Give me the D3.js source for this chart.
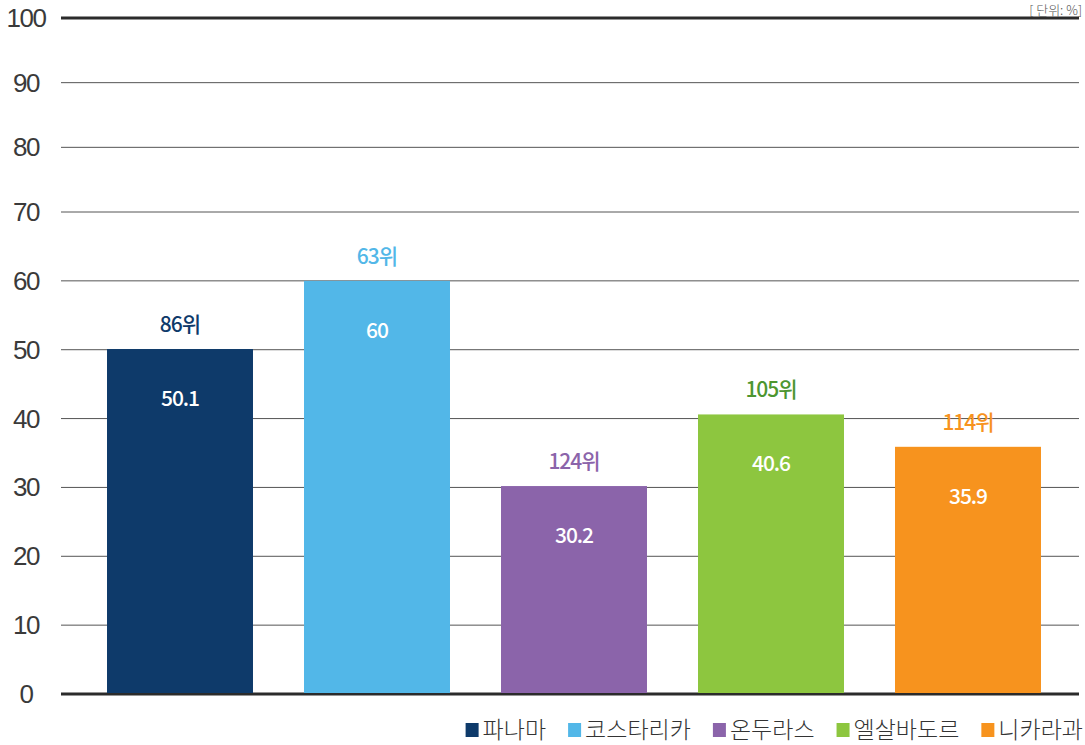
<!DOCTYPE html>
<html>
<head>
<meta charset="utf-8">
<script src="https://cdn.jsdelivr.net/npm/d3@7"></script>
<style>
  html, body { margin: 0; padding: 0; background: #fff; }
  svg { display: block; }
  text { font-family: "Liberation Sans", "Noto Sans CJK KR", sans-serif; }
</style>
</head>
<body>
<svg id="chart" width="1085" height="745"></svg>
<script>
// Countries, share values (%) and world ranking per country
const countries = ["파나마", "코스타리카", "온두라스", "엘살바도르", "니카라과"];
const values = [50.1, 60, 30.2, 40.6, 35.9];
const ranks = ["86위", "63위", "124위", "105위", "114위"];
const colors = ["#0e3a6a", "#52b7e8", "#8b64aa", "#8dc63f", "#f7931e"];
const rankColors = ["#0e3a6a", "#52b7e8", "#8b64aa", "#4d9631", "#f7931e"];
const yTicks = [0, 10, 20, 30, 40, 50, 60, 70, 80, 90, 100];
const unitLabel = "[ 단위: %]";

const svg = d3.select("#chart");
const left = 61, right = 1079;
const labelFont = "'Noto Sans CJK KR', sans-serif";

const y = d3.scaleLinear().domain([0, 70, 100]).range([694, 212, 18]);
const x = d3.scaleBand()
  .domain(countries)
  .range([81.5, 1066.5])
  .paddingInner(0.259)
  .paddingOuter(0.1295);

// horizontal gridlines
svg.append("g")
  .selectAll("line")
  .data(yTicks)
  .join("line")
  .attr("x1", left)
  .attr("x2", right)
  .attr("y1", d => y(d))
  .attr("y2", d => y(d))
  .attr("stroke", d => (d === 0 || d === 100) ? "#2b2b2b" : "#555")
  .attr("stroke-width", d => (d === 0 || d === 100) ? 3 : 1);

// tick labels
svg.append("g")
  .selectAll("text")
  .data(yTicks)
  .join("text")
  .attr("x", 26)
  .attr("y", d => y(d) + 9)
  .attr("text-anchor", "middle")
  .attr("font-size", 26)
  .attr("letter-spacing", -1.5)
  .attr("fill", "#3a3a3a")
  .text(d => d);

// bars
const bars = svg.append("g")
  .selectAll("g")
  .data(countries)
  .join("g");

bars.append("rect")
  .attr("x", d => x(d))
  .attr("width", x.bandwidth())
  .attr("y", (d, i) => y(values[i]))
  .attr("height", (d, i) => y(0) - y(values[i]) - 1)
  .attr("fill", (d, i) => colors[i]);

// rank label above each bar
bars.append("text")
  .attr("x", d => x(d) + x.bandwidth() / 2)
  .attr("y", (d, i) => y(values[i]) - 17)
  .attr("text-anchor", "middle")
  .style("font-family", labelFont)
  .style("font-size", "21px")
  .style("letter-spacing", "-1px")
  .style("font-weight", 500)
  .attr("fill", (d, i) => rankColors[i])
  .text((d, i) => ranks[i]);

// value label inside each bar
bars.append("text")
  .attr("x", d => x(d) + x.bandwidth() / 2)
  .attr("y", (d, i) => y(values[i]) + 57)
  .attr("text-anchor", "middle")
  .style("font-family", labelFont)
  .style("font-size", "21px")
  .style("letter-spacing", "-1px")
  .style("font-weight", 500)
  .attr("fill", "#fff")
  .text((d, i) => values[i]);

// unit label, top right
svg.append("text")
  .attr("x", 1082)
  .attr("y", 15)
  .attr("text-anchor", "end")
  .style("font-family", labelFont)
  .style("font-size", "13px")
  .style("font-weight", 300)
  .attr("fill", "#555")
  .text(unitLabel);

// legend, right aligned
const legend = svg.append("g");
const items = legend.selectAll("g")
  .data(countries)
  .join("g");
items.append("rect")
  .attr("width", 13)
  .attr("height", 14)
  .attr("y", 723)
  .attr("fill", (d, i) => colors[i]);
items.append("text")
  .attr("x", 17)
  .attr("y", 738)
  .style("font-family", labelFont)
  .style("font-size", "23px")
  .style("font-weight", 300)
  .attr("fill", "#333")
  .text(d => d);

const widths = [];
items.each(function () {
  widths.push(17 + d3.select(this).select("text").node().getComputedTextLength());
});
const gap = 22;
const total = d3.sum(widths) + gap * (widths.length - 1);
let cx = 1083 - total;
items.attr("transform", (d, i) => {
  const t = `translate(${cx},0)`;
  cx += widths[i] + gap;
  return t;
});
</script>
</body>
</html>
